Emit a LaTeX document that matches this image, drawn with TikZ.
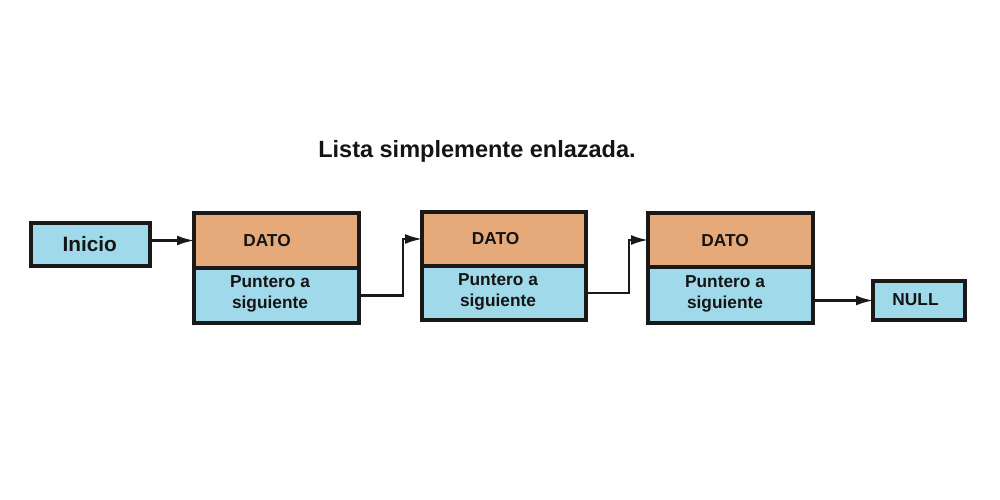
\documentclass[tikz,border=0pt]{standalone}
\usepackage{fontspec}
\setmainfont{Liberation Sans}
\usetikzlibrary{arrows.meta}
\definecolor{datoc}{RGB}{230,170,122}
\definecolor{ptrc}{RGB}{160,217,234}
\begin{document}
\begin{tikzpicture}[x=1pt,y=-1pt,
  box/.style={draw=black!90,line width=3.2pt,inner sep=0pt,outer sep=0pt},
  lbl/.style={font=\bfseries\fontsize{17.3}{21}\selectfont,align=center,inner sep=0pt,text=black!92},
  conn/.style={line width=2.2pt,draw=black!90,-{Latex[length=17pt,width=10pt]}}]
\useasboundingbox (0,0) rectangle (1000,500);
\node[lbl,font=\bfseries\fontsize{23.5}{27}\selectfont] (title) at (477,151) {Lista simplemente enlazada.};
% Inicio
\node[box,fill=ptrc,minimum width=119pt,minimum height=43pt] (ini) at (90.5,244.5) {};
\node[lbl,font=\bfseries\fontsize{20.8}{24}\selectfont] (tini) at (89.7,244.5) {Inicio};
% node 1
\node[box,fill=datoc,minimum width=165pt,minimum height=55pt] (d1) at (276.5,240.5) {};
\node[box,fill=ptrc,minimum width=165pt,minimum height=55pt] (p1) at (276.5,295.5) {};
\node[lbl] (td1) at (267,241) {DATO};
\node[lbl] (tp1) at (270,293.5) {Puntero a\\siguiente};
% node 2
\node[box,fill=datoc,minimum width=164pt,minimum height=54pt] (d2) at (504,239) {};
\node[box,fill=ptrc,minimum width=164pt,minimum height=54pt] (p2) at (504,293) {};
\node[lbl] (td2) at (495.5,238.5) {DATO};
\node[lbl] (tp2) at (498,292) {Puntero a\\siguiente};
% node 3
\node[box,fill=datoc,minimum width=165pt,minimum height=54pt] (d3) at (730.5,240) {};
\node[box,fill=ptrc,minimum width=165pt,minimum height=56pt] (p3) at (730.5,295) {};
\node[lbl] (td3) at (725,241) {DATO};
\node[lbl] (tp3) at (725,293.5) {Puntero a\\siguiente};
% NULL
\node[box,fill=ptrc,minimum width=92pt,minimum height=39pt] (nul) at (919,300.5) {};
\node[lbl] (tnul) at (915.5,300) {NULL};
% connectors
\coordinate (c1) at (403,0);
\coordinate (c2) at (629,0);
\draw[conn] (ini.east |- d1.west) -- (d1.west);
\draw[conn] (p1.east) -- (p1.east -| c1) |- (d2.west);
\draw[conn] (p2.east) -- (p2.east -| c2) |- (d3.west);
\draw[conn] (nul.west -| p3.east) -- (nul.west);
\end{tikzpicture}
\end{document}
